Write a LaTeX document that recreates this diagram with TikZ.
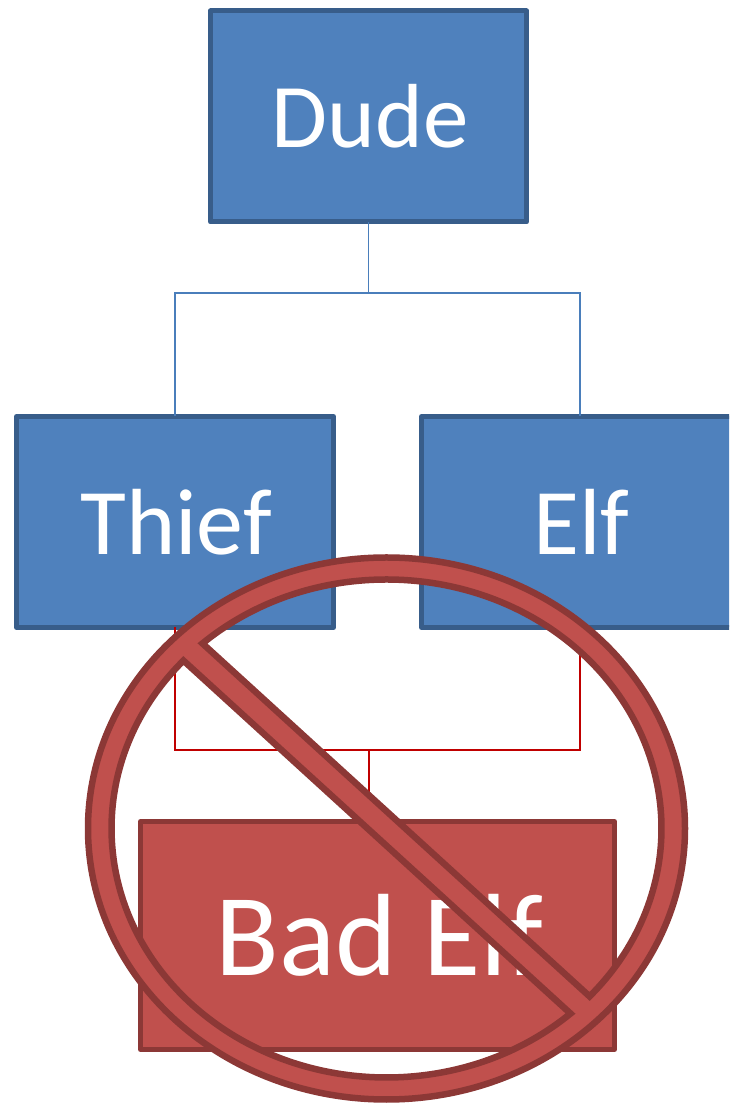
\documentclass[tikz,border=0pt]{standalone}
\usepackage{fontspec}
\setmainfont{Carlito}
\definecolor{bluefill}{HTML}{4F81BD}
\definecolor{blueline}{HTML}{385D8A}
\definecolor{bluelink}{HTML}{4A7EBB}
\definecolor{redfill}{HTML}{C0504D}
\definecolor{redline}{HTML}{8C3836}
\definecolor{redlink}{HTML}{C00000}
\newcommand{\boxtext}[3]{\hspace*{#1}\raisebox{#2}{#3}}
\tikzset{
  box/.style={rectangle,draw,line width=5pt,line join=round,inner sep=0pt,outer sep=0pt,text=white,align=center},
  bluebox/.style={box,fill=bluefill,draw=blueline,minimum width=317pt,minimum height=211pt,font=\fontsize{94}{94}\selectfont},
  redbox/.style={box,fill=redfill,draw=redline,minimum width=474pt,minimum height=228pt,font=\fontsize{117}{117}\selectfont},
  bluelinkline/.style={draw=bluelink,line width=1.6pt},
  redlinkline/.style={draw=redlink,line width=2pt},
  nosign/.style={fill=redfill,draw=redline,line width=6.5pt,line join=miter,even odd rule}
}
\begin{document}
\begin{tikzpicture}[x=1pt,y=1pt]
\useasboundingbox (0,0) rectangle (729,1103);
\clip (0,0) rectangle (729,1103);
\node[bluebox,minimum width=316pt,font=\fontsize{91}{91}\selectfont] (dude) at (368.5,986.5) {\boxtext{3pt}{-3pt}{Dude}};
\node[bluebox] (thief) at (175,581) {\boxtext{2pt}{-1pt}{Thief}};
\node[bluebox] (elf) at (580,581) {\boxtext{3pt}{-1pt}{Elf}};
\node[redbox] (bad) at (377.5,167.5) {\boxtext{4pt}{0pt}{Bad Elf}};
\coordinate (topbus) at (368.5,810);
\coordinate (lowbus) at (369,353);
\draw[bluelinkline] (dude.south) -- (topbus);
\draw[bluelinkline] (thief.north) |- (topbus) -| (elf.north);
\draw[redlinkline] (thief.south) |- (lowbus) -| (elf.south);
\draw[redlinkline] (lowbus) -- (lowbus |- bad.north);
\coordinate (c) at (386.5,274.5);
\path[nosign]
  (c) ellipse [x radius=298.5, y radius=271]
  (c) ++(132:275 and 249) arc[start angle=132,end angle=-42.4,x radius=275,y radius=249] -- cycle
  (c) ++(137.6:275 and 249) arc[start angle=137.6,end angle=312,x radius=275,y radius=249] -- cycle;
\end{tikzpicture}
\end{document}
